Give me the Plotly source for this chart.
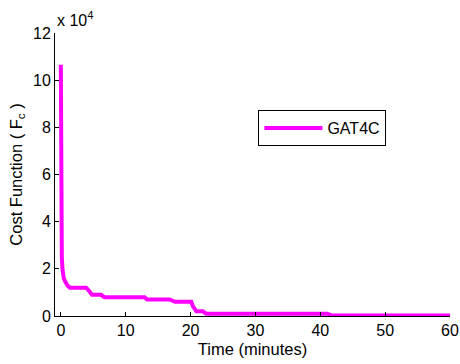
import plotly.graph_objects as go

# Time (minutes) and cost function values
time_min = [0.0, 0.05, 0.1, 0.15, 0.25, 0.45, 0.7, 1.0, 1.4, 3.9, 4.4, 4.8, 6.2, 6.7,
            12.9, 13.3, 16.8, 17.6, 20.1, 20.4, 20.9, 21.9, 22.4, 41.1, 41.8, 60.0]
cost = [106500, 60000, 40000, 25000, 20000, 16000, 14500, 13000, 12000, 12000, 10500,
        9000, 9000, 8000, 8000, 7000, 7000, 6000, 6000, 4000, 2000, 2000, 1000, 1000,
        200, 200]
series_name = "GAT4C"
x_ticks = [0, 10, 20, 30, 40, 50, 60]
y_ticks = [0, 20000, 40000, 60000, 80000, 100000, 120000]
y_tick_labels = ["0", "2", "4", "6", "8", "10", "12"]

FONT = "Liberation Sans, Arial, sans-serif"

fig = go.Figure()
fig.add_trace(go.Scatter(x=time_min, y=cost, mode="lines", name=series_name,
                         line=dict(color="#FF00FF", width=4)))

fig.update_layout(
    width=460, height=364,
    margin=dict(l=55, r=10, t=33, b=48, autoexpand=False),
    paper_bgcolor="white", plot_bgcolor="white",
    font=dict(family=FONT, size=16, color="black"),
    showlegend=True,
    legend=dict(x=0.515, y=0.728, xanchor="left", yanchor="top",
                bordercolor="black", borderwidth=1, bgcolor="white",
                itemwidth=58, font=dict(size=16)),
    xaxis=dict(range=[-0.9, 60], tickvals=x_ticks, ticks="inside", ticklen=4,
               tickcolor="black", showline=True, linecolor="black", linewidth=1,
               showgrid=False, zeroline=False, mirror=False, automargin=False,
               ticklabeloverflow="allow", tickfont=dict(size=16),
               title=dict(text="Time (minutes)", standoff=5, font=dict(size=16.5))),
    yaxis=dict(range=[0, 120000], tickvals=y_ticks, ticktext=y_tick_labels,
               ticks="inside", ticklen=4, tickcolor="black", showline=True,
               linecolor="black", linewidth=1, showgrid=False, zeroline=False,
               automargin=False, ticklabeloverflow="allow", tickfont=dict(size=16),
               title=dict(text="Cost Function ( F<sub>c</sub> )", standoff=6,
                          font=dict(size=16.5))),
    annotations=[dict(text="x 10<sup>4</sup>", xref="paper", yref="paper",
                      x=0, y=1, xanchor="left", yanchor="bottom", yshift=2,
                      showarrow=False, font=dict(size=16))],
)

fig.write_html("out.html", config={"displayModeBar": False},
               post_script="document.body.style.margin='0';")
